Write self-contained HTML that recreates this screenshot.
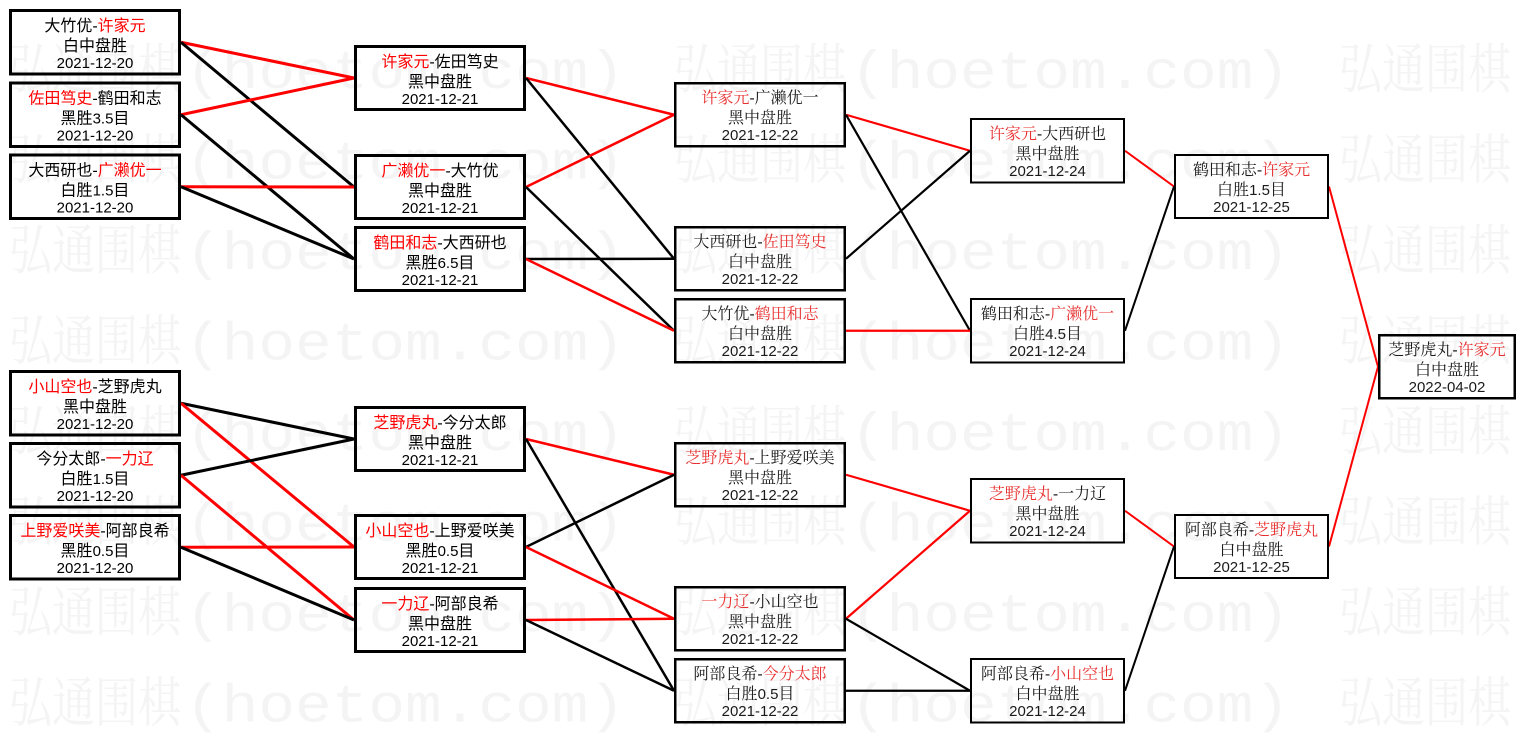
<!DOCTYPE html>
<html><head><meta charset="utf-8"><style>
html,body{margin:0;padding:0;background:#fff;}
svg{display:block;}
.s{font-family:"Liberation Sans","Noto Sans CJK SC",sans-serif;font-size:16px;fill:#000;}
.f{font-family:"Liberation Sans","Noto Serif CJK SC","Noto Sans CJK SC",serif;font-size:16px;fill:#1a1a1a;}
.d{font-family:"Liberation Sans",sans-serif;font-size:15px;}
.r1{fill:#ff0000;}
.r2{fill:#e83030;}
.wm{font-family:"Noto Serif CJK SC","Noto Sans CJK SC",serif;font-size:54px;fill:#f4f4f4;}
.wl{font-family:"Liberation Mono",monospace;font-size:54px;fill:#f4f4f4;}
</style></head><body>
<svg width="1527" height="733" viewBox="0 0 1527 733" xmlns="http://www.w3.org/2000/svg">
<rect width="1527" height="733" fill="#fff"/>
<!-- watermark -->
<g>
<text class="wm" x="9" y="88" textLength="172" lengthAdjust="spacingAndGlyphs">弘通围棋</text><text class="wl" x="185" y="88" textLength="440" lengthAdjust="spacingAndGlyphs">(hoetom.com)</text>
<text class="wm" x="674" y="88" textLength="172" lengthAdjust="spacingAndGlyphs">弘通围棋</text><text class="wl" x="850" y="88" textLength="440" lengthAdjust="spacingAndGlyphs">(hoetom.com)</text>
<text class="wm" x="1339" y="88" textLength="172" lengthAdjust="spacingAndGlyphs">弘通围棋</text>

<text class="wm" x="9" y="178.5" textLength="172" lengthAdjust="spacingAndGlyphs">弘通围棋</text><text class="wl" x="185" y="178.5" textLength="440" lengthAdjust="spacingAndGlyphs">(hoetom.com)</text>
<text class="wm" x="674" y="178.5" textLength="172" lengthAdjust="spacingAndGlyphs">弘通围棋</text><text class="wl" x="850" y="178.5" textLength="440" lengthAdjust="spacingAndGlyphs">(hoetom.com)</text>
<text class="wm" x="1339" y="178.5" textLength="172" lengthAdjust="spacingAndGlyphs">弘通围棋</text>

<text class="wm" x="9" y="269" textLength="172" lengthAdjust="spacingAndGlyphs">弘通围棋</text><text class="wl" x="185" y="269" textLength="440" lengthAdjust="spacingAndGlyphs">(hoetom.com)</text>
<text class="wm" x="674" y="269" textLength="172" lengthAdjust="spacingAndGlyphs">弘通围棋</text><text class="wl" x="850" y="269" textLength="440" lengthAdjust="spacingAndGlyphs">(hoetom.com)</text>
<text class="wm" x="1339" y="269" textLength="172" lengthAdjust="spacingAndGlyphs">弘通围棋</text>

<text class="wm" x="9" y="359.5" textLength="172" lengthAdjust="spacingAndGlyphs">弘通围棋</text><text class="wl" x="185" y="359.5" textLength="440" lengthAdjust="spacingAndGlyphs">(hoetom.com)</text>
<text class="wm" x="674" y="359.5" textLength="172" lengthAdjust="spacingAndGlyphs">弘通围棋</text><text class="wl" x="850" y="359.5" textLength="440" lengthAdjust="spacingAndGlyphs">(hoetom.com)</text>
<text class="wm" x="1339" y="359.5" textLength="172" lengthAdjust="spacingAndGlyphs">弘通围棋</text>

<text class="wm" x="9" y="450" textLength="172" lengthAdjust="spacingAndGlyphs">弘通围棋</text><text class="wl" x="185" y="450" textLength="440" lengthAdjust="spacingAndGlyphs">(hoetom.com)</text>
<text class="wm" x="674" y="450" textLength="172" lengthAdjust="spacingAndGlyphs">弘通围棋</text><text class="wl" x="850" y="450" textLength="440" lengthAdjust="spacingAndGlyphs">(hoetom.com)</text>
<text class="wm" x="1339" y="450" textLength="172" lengthAdjust="spacingAndGlyphs">弘通围棋</text>

<text class="wm" x="9" y="540.5" textLength="172" lengthAdjust="spacingAndGlyphs">弘通围棋</text><text class="wl" x="185" y="540.5" textLength="440" lengthAdjust="spacingAndGlyphs">(hoetom.com)</text>
<text class="wm" x="674" y="540.5" textLength="172" lengthAdjust="spacingAndGlyphs">弘通围棋</text><text class="wl" x="850" y="540.5" textLength="440" lengthAdjust="spacingAndGlyphs">(hoetom.com)</text>
<text class="wm" x="1339" y="540.5" textLength="172" lengthAdjust="spacingAndGlyphs">弘通围棋</text>

<text class="wm" x="9" y="631" textLength="172" lengthAdjust="spacingAndGlyphs">弘通围棋</text><text class="wl" x="185" y="631" textLength="440" lengthAdjust="spacingAndGlyphs">(hoetom.com)</text>
<text class="wm" x="674" y="631" textLength="172" lengthAdjust="spacingAndGlyphs">弘通围棋</text><text class="wl" x="850" y="631" textLength="440" lengthAdjust="spacingAndGlyphs">(hoetom.com)</text>
<text class="wm" x="1339" y="631" textLength="172" lengthAdjust="spacingAndGlyphs">弘通围棋</text>

<text class="wm" x="9" y="721.5" textLength="172" lengthAdjust="spacingAndGlyphs">弘通围棋</text><text class="wl" x="185" y="721.5" textLength="440" lengthAdjust="spacingAndGlyphs">(hoetom.com)</text>
<text class="wm" x="674" y="721.5" textLength="172" lengthAdjust="spacingAndGlyphs">弘通围棋</text><text class="wl" x="850" y="721.5" textLength="440" lengthAdjust="spacingAndGlyphs">(hoetom.com)</text>
<text class="wm" x="1339" y="721.5" textLength="172" lengthAdjust="spacingAndGlyphs">弘通围棋</text>
</g>

<!-- connectors col1 -> col2 -->
<g stroke-width="3" stroke-linecap="butt">
<line x1="181" y1="42.25" x2="354" y2="78" stroke="#ff0000"/>
<line x1="181" y1="42.25" x2="354" y2="187" stroke="#000"/>
<line x1="181" y1="114.75" x2="354" y2="78" stroke="#ff0000"/>
<line x1="181" y1="114.75" x2="354" y2="259" stroke="#000"/>
<line x1="181" y1="186.75" x2="354" y2="187" stroke="#ff0000"/>
<line x1="181" y1="186.75" x2="354" y2="259" stroke="#000"/>

<line x1="181" y1="403.25" x2="354" y2="439" stroke="#000"/>
<line x1="181" y1="403.25" x2="354" y2="547" stroke="#ff0000"/>
<line x1="181" y1="475.25" x2="354" y2="439" stroke="#000"/>
<line x1="181" y1="475.25" x2="354" y2="620" stroke="#ff0000"/>
<line x1="181" y1="547.25" x2="354" y2="547" stroke="#ff0000"/>
<line x1="181" y1="547.25" x2="354" y2="620" stroke="#000"/>
</g>
<!-- col2 -> col3 -->
<g stroke-width="2.5">
<line x1="526" y1="78" x2="674" y2="114.75" stroke="#ff0000"/>
<line x1="526" y1="78" x2="674" y2="258.75" stroke="#000"/>
<line x1="526" y1="187" x2="674" y2="114.75" stroke="#ff0000"/>
<line x1="526" y1="187" x2="674" y2="330.75" stroke="#000"/>
<line x1="526" y1="259" x2="674" y2="258.75" stroke="#000"/>
<line x1="526" y1="259" x2="674" y2="330.75" stroke="#ff0000"/>

<line x1="526" y1="439" x2="674" y2="474.75" stroke="#ff0000"/>
<line x1="526" y1="439" x2="674" y2="690.75" stroke="#000"/>
<line x1="526" y1="547" x2="674" y2="474.75" stroke="#000"/>
<line x1="526" y1="547" x2="674" y2="618.75" stroke="#ff0000"/>
<line x1="526" y1="620" x2="674" y2="618.75" stroke="#ff0000"/>
<line x1="526" y1="620" x2="674" y2="690.75" stroke="#000"/>
</g>
<!-- col3 -> col4 -->
<g stroke-width="2.2">
<line x1="846" y1="114.75" x2="970" y2="150.75" stroke="#ff0000"/>
<line x1="846" y1="114.75" x2="970" y2="330.75" stroke="#000"/>
<line x1="846" y1="258.75" x2="970" y2="150.75" stroke="#000"/>
<line x1="846" y1="330.75" x2="970" y2="330.75" stroke="#ff0000"/>

<line x1="846" y1="474.75" x2="970" y2="510.75" stroke="#ff0000"/>
<line x1="846" y1="618.75" x2="970" y2="510.75" stroke="#ff0000"/>
<line x1="846" y1="618.75" x2="970" y2="690.75" stroke="#000"/>
<line x1="846" y1="690.75" x2="970" y2="690.75" stroke="#000"/>
</g>
<!-- col4 -> col5 -> final -->
<g stroke-width="2">
<line x1="1125" y1="150.75" x2="1174" y2="186.5" stroke="#ff0000"/>
<line x1="1125" y1="330.75" x2="1174" y2="186.5" stroke="#000"/>
<line x1="1125" y1="510.75" x2="1174" y2="546.5" stroke="#ff0000"/>
<line x1="1125" y1="690.75" x2="1174" y2="546.5" stroke="#000"/>
<line x1="1329" y1="186.5" x2="1378" y2="366.75" stroke="#ff0000"/>
<line x1="1329" y1="546.5" x2="1378" y2="366.75" stroke="#ff0000"/>
</g>

<!-- boxes -->
<g fill="none" stroke="#000">
<rect x="10.5" y="10.5" width="169" height="63.5" stroke-width="3"/>
<rect x="10.5" y="83" width="169" height="63.5" stroke-width="3"/>
<rect x="10.5" y="155" width="169" height="63.5" stroke-width="3"/>
<rect x="10.5" y="371.5" width="169" height="63.5" stroke-width="3"/>
<rect x="10.5" y="443.5" width="169" height="63.5" stroke-width="3"/>
<rect x="10.5" y="515.5" width="169" height="63.5" stroke-width="3"/>

<rect x="355.5" y="46.5" width="169" height="63" stroke-width="3"/>
<rect x="355.5" y="155.5" width="169" height="63" stroke-width="3"/>
<rect x="355.5" y="227.5" width="169" height="63" stroke-width="3"/>
<rect x="355.5" y="407.5" width="169" height="63" stroke-width="3"/>
<rect x="355.5" y="515.5" width="169" height="63" stroke-width="3"/>
<rect x="355.5" y="588.5" width="169" height="63" stroke-width="3"/>

<rect x="675.25" y="83.25" width="169.5" height="63" stroke-width="2.5"/>
<rect x="675.25" y="227.25" width="169.5" height="63" stroke-width="2.5"/>
<rect x="675.25" y="299.25" width="169.5" height="63" stroke-width="2.5"/>
<rect x="675.25" y="443.25" width="169.5" height="63" stroke-width="2.5"/>
<rect x="675.25" y="587.25" width="169.5" height="63" stroke-width="2.5"/>
<rect x="675.25" y="659.25" width="169.5" height="63" stroke-width="2.5"/>

<rect x="971" y="119" width="153" height="63.5" stroke-width="2"/>
<rect x="971" y="299" width="153" height="63.5" stroke-width="2"/>
<rect x="971" y="479" width="153" height="63.5" stroke-width="2"/>
<rect x="971" y="659" width="153" height="63.5" stroke-width="2"/>

<rect x="1175" y="155" width="153" height="63" stroke-width="2"/>
<rect x="1175" y="515" width="153" height="63" stroke-width="2"/>

<rect x="1379.25" y="335.25" width="135.5" height="63" stroke-width="2.5"/>
</g>

<!-- text col1 (cx 95) -->
<g class="s" text-anchor="middle">
<text x="95" y="31">大竹优-<tspan class="r1">许家元</tspan></text>
<text x="95" y="51">白中盘胜</text>
<text x="95" y="68" class="d" style="fill:#000">2021-12-20</text>

<text x="95" y="103.5"><tspan class="r1">佐田笃史</tspan>-鹤田和志</text>
<text x="95" y="123.5">黑胜<tspan class="d">3.5</tspan>目</text>
<text x="95" y="140.5" class="d" style="fill:#000">2021-12-20</text>

<text x="95" y="175.5">大西研也-<tspan class="r1">广濑优一</tspan></text>
<text x="95" y="195.5">白胜<tspan class="d">1.5</tspan>目</text>
<text x="95" y="212.5" class="d" style="fill:#000">2021-12-20</text>

<text x="95" y="392"><tspan class="r1">小山空也</tspan>-芝野虎丸</text>
<text x="95" y="412">黑中盘胜</text>
<text x="95" y="429" class="d" style="fill:#000">2021-12-20</text>

<text x="95" y="464">今分太郎-<tspan class="r1">一力辽</tspan></text>
<text x="95" y="484">白胜<tspan class="d">1.5</tspan>目</text>
<text x="95" y="501" class="d" style="fill:#000">2021-12-20</text>

<text x="95" y="536"><tspan class="r1">上野爱咲美</tspan>-阿部良希</text>
<text x="95" y="556">黑胜<tspan class="d">0.5</tspan>目</text>
<text x="95" y="573" class="d" style="fill:#000">2021-12-20</text>
</g>

<!-- text col2 (cx 440) -->
<g class="s" text-anchor="middle">
<text x="440" y="67"><tspan class="r1">许家元</tspan>-佐田笃史</text>
<text x="440" y="87">黑中盘胜</text>
<text x="440" y="104" class="d" style="fill:#000">2021-12-21</text>

<text x="440" y="176"><tspan class="r1">广濑优一</tspan>-大竹优</text>
<text x="440" y="196">黑中盘胜</text>
<text x="440" y="213" class="d" style="fill:#000">2021-12-21</text>

<text x="440" y="248"><tspan class="r1">鹤田和志</tspan>-大西研也</text>
<text x="440" y="268">黑胜<tspan class="d">6.5</tspan>目</text>
<text x="440" y="285" class="d" style="fill:#000">2021-12-21</text>

<text x="440" y="428"><tspan class="r1">芝野虎丸</tspan>-今分太郎</text>
<text x="440" y="448">黑中盘胜</text>
<text x="440" y="465" class="d" style="fill:#000">2021-12-21</text>

<text x="440" y="536"><tspan class="r1">小山空也</tspan>-上野爱咲美</text>
<text x="440" y="556">黑胜<tspan class="d">0.5</tspan>目</text>
<text x="440" y="573" class="d" style="fill:#000">2021-12-21</text>

<text x="440" y="609"><tspan class="r1">一力辽</tspan>-阿部良希</text>
<text x="440" y="629">黑中盘胜</text>
<text x="440" y="646" class="d" style="fill:#000">2021-12-21</text>
</g>

<!-- text col3 (cx 760) -->
<g class="f" text-anchor="middle">
<text x="760" y="103"><tspan class="r2">许家元</tspan>-广濑优一</text>
<text x="760" y="123">黑中盘胜</text>
<text x="760" y="140" class="d" style="fill:#1a1a1a">2021-12-22</text>

<text x="760" y="247">大西研也-<tspan class="r2">佐田笃史</tspan></text>
<text x="760" y="267">白中盘胜</text>
<text x="760" y="284" class="d" style="fill:#1a1a1a">2021-12-22</text>

<text x="760" y="319">大竹优-<tspan class="r2">鹤田和志</tspan></text>
<text x="760" y="339">白中盘胜</text>
<text x="760" y="356" class="d" style="fill:#1a1a1a">2021-12-22</text>

<text x="760" y="463"><tspan class="r2">芝野虎丸</tspan>-上野爱咲美</text>
<text x="760" y="483">黑中盘胜</text>
<text x="760" y="500" class="d" style="fill:#1a1a1a">2021-12-22</text>

<text x="760" y="607"><tspan class="r2">一力辽</tspan>-小山空也</text>
<text x="760" y="627">黑中盘胜</text>
<text x="760" y="644" class="d" style="fill:#1a1a1a">2021-12-22</text>

<text x="760" y="679">阿部良希-<tspan class="r2">今分太郎</tspan></text>
<text x="760" y="699">白胜<tspan class="d">0.5</tspan>目</text>
<text x="760" y="716" class="d" style="fill:#1a1a1a">2021-12-22</text>
</g>

<!-- text col4 (cx 1047.5) -->
<g class="f" text-anchor="middle">
<text x="1047.5" y="139"><tspan class="r2">许家元</tspan>-大西研也</text>
<text x="1047.5" y="159">黑中盘胜</text>
<text x="1047.5" y="176" class="d" style="fill:#1a1a1a">2021-12-24</text>

<text x="1047.5" y="319">鹤田和志-<tspan class="r2">广濑优一</tspan></text>
<text x="1047.5" y="339">白胜<tspan class="d">4.5</tspan>目</text>
<text x="1047.5" y="356" class="d" style="fill:#1a1a1a">2021-12-24</text>

<text x="1047.5" y="499"><tspan class="r2">芝野虎丸</tspan>-一力辽</text>
<text x="1047.5" y="519">黑中盘胜</text>
<text x="1047.5" y="536" class="d" style="fill:#1a1a1a">2021-12-24</text>

<text x="1047.5" y="679">阿部良希-<tspan class="r2">小山空也</tspan></text>
<text x="1047.5" y="699">白中盘胜</text>
<text x="1047.5" y="716" class="d" style="fill:#1a1a1a">2021-12-24</text>
</g>

<!-- text col5 (cx 1251.5) + final (cx 1447) -->
<g class="f" text-anchor="middle">
<text x="1251.5" y="175">鹤田和志-<tspan class="r2">许家元</tspan></text>
<text x="1251.5" y="195">白胜<tspan class="d">1.5</tspan>目</text>
<text x="1251.5" y="212" class="d" style="fill:#1a1a1a">2021-12-25</text>

<text x="1251.5" y="535">阿部良希-<tspan class="r2">芝野虎丸</tspan></text>
<text x="1251.5" y="555">白中盘胜</text>
<text x="1251.5" y="572" class="d" style="fill:#1a1a1a">2021-12-25</text>

<text x="1447" y="355">芝野虎丸-<tspan class="r2">许家元</tspan></text>
<text x="1447" y="375">白中盘胜</text>
<text x="1447" y="392" class="d" style="fill:#1a1a1a">2022-04-02</text>
</g>
</svg>
</body></html>
